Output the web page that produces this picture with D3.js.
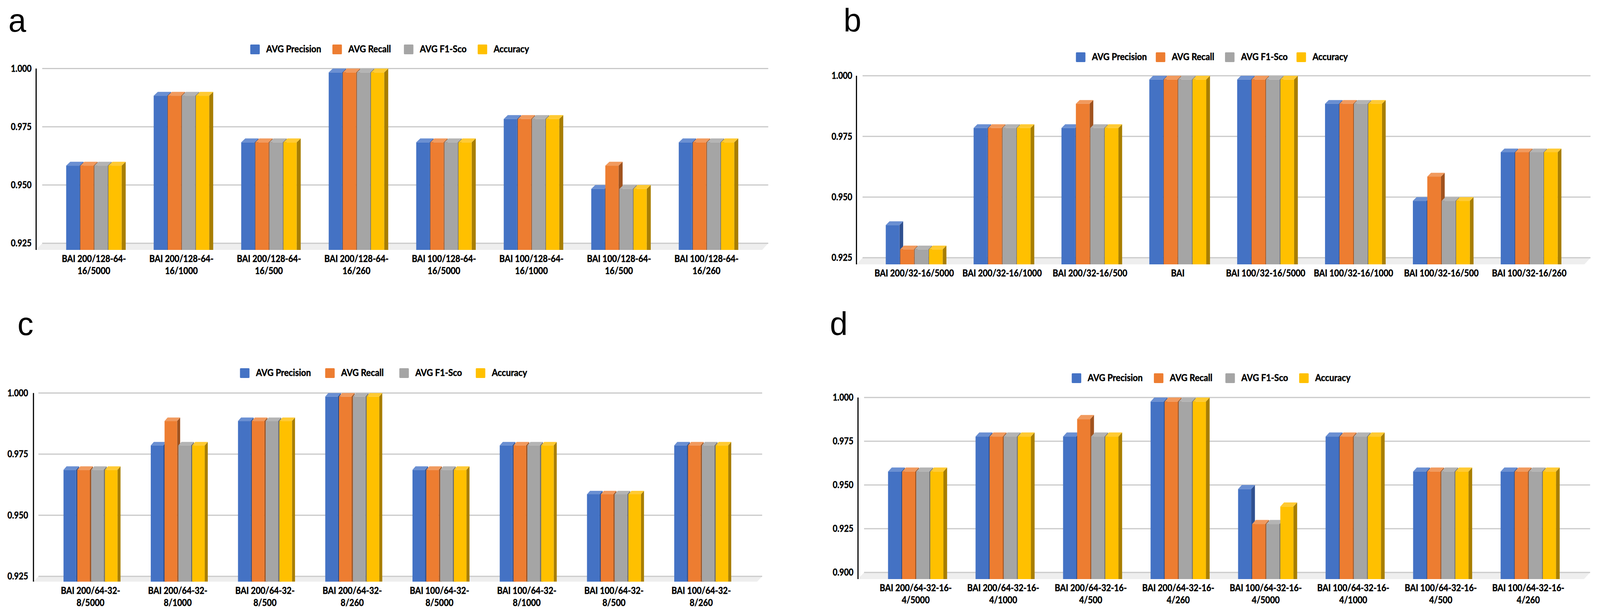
<!DOCTYPE html>
<html>
<head>
<meta charset="utf-8">
<script src="https://cdn.jsdelivr.net/npm/d3@7"></script>
<style>
  html, body { margin: 0; padding: 0; background: #fff; width: 100%; height: 100%; overflow: hidden; }
  svg { display: block; width: 100vw; height: 100vh; }
  text { font-family: Lato, "Noto Sans", sans-serif; font-weight: 700; fill: #000; stroke: #000; stroke-width: 0.6px; }
  .letter { font-family: "Liberation Sans", sans-serif; font-weight: 400; font-size: 84px; stroke: none; }
</style>
</head>
<body>
<!-- the window tops out narrower than the picture, so the drawing is fitted to whatever it gets -->
<svg id="canvas" viewBox="0 0 4207 1575" preserveAspectRatio="none"></svg>
<script>
// series names shared by the four panels
let seriesNames = ['AVG Precision', 'AVG Recall', 'AVG F1-Sco', 'Accuracy'];

// panel a
let categoriesA = ['BAI 200/128-64-\n16/5000', 'BAI 200/128-64-\n16/1000', 'BAI 200/128-64-\n16/500', 'BAI 200/128-64-\n16/260',
                   'BAI 100/128-64-\n16/5000', 'BAI 100/128-64-\n16/1000', 'BAI 100/128-64-\n16/500', 'BAI 100/128-64-\n16/260'];
let precisionA = [0.96, 0.99, 0.97, 1.00, 0.97, 0.98, 0.95, 0.97];
let recallA    = [0.96, 0.99, 0.97, 1.00, 0.97, 0.98, 0.96, 0.97];
let f1A        = [0.96, 0.99, 0.97, 1.00, 0.97, 0.98, 0.95, 0.97];
let accuracyA  = [0.96, 0.99, 0.97, 1.00, 0.97, 0.98, 0.95, 0.97];
let ticksA = [0.925, 0.950, 0.975, 1.000];

// panel b
let categoriesB = ['BAI 200/32-16/5000', 'BAI 200/32-16/1000', 'BAI 200/32-16/500', 'BAI',
                   'BAI 100/32-16/5000', 'BAI 100/32-16/1000', 'BAI 100/32-16/500', 'BAI 100/32-16/260'];
let precisionB = [0.94, 0.98, 0.98, 1.00, 1.00, 0.99, 0.95, 0.97];
let recallB    = [0.93, 0.98, 0.99, 1.00, 1.00, 0.99, 0.96, 0.97];
let f1B        = [0.93, 0.98, 0.98, 1.00, 1.00, 0.99, 0.95, 0.97];
let accuracyB  = [0.93, 0.98, 0.98, 1.00, 1.00, 0.99, 0.95, 0.97];
let ticksB = [0.925, 0.950, 0.975, 1.000];

// panel c
let categoriesC = ['BAI 200/64-32-\n8/5000', 'BAI 200/64-32-\n8/1000', 'BAI 200/64-32-\n8/500', 'BAI 200/64-32-\n8/260',
                   'BAI 100/64-32-\n8/5000', 'BAI 100/64-32-\n8/1000', 'BAI 100/64-32-\n8/500', 'BAI 100/64-32-\n8/260'];
let precisionC = [0.97, 0.98, 0.99, 1.00, 0.97, 0.98, 0.96, 0.98];
let recallC    = [0.97, 0.99, 0.99, 1.00, 0.97, 0.98, 0.96, 0.98];
let f1C        = [0.97, 0.98, 0.99, 1.00, 0.97, 0.98, 0.96, 0.98];
let accuracyC  = [0.97, 0.98, 0.99, 1.00, 0.97, 0.98, 0.96, 0.98];
let ticksC = [0.925, 0.950, 0.975, 1.000];

// panel d
let categoriesD = ['BAI 200/64-32-16-\n4/5000', 'BAI 200/64-32-16-\n4/1000', 'BAI 200/64-32-16-\n4/500', 'BAI 200/64-32-16-\n4/260',
                   'BAI 100/64-32-16-\n4/5000', 'BAI 100/64-32-16-\n4/1000', 'BAI 100/64-32-16-\n4/500', 'BAI 100/64-32-16-\n4/260'];
let precisionD = [0.96, 0.98, 0.98, 1.00, 0.95, 0.98, 0.96, 0.96];
let recallD    = [0.96, 0.98, 0.99, 1.00, 0.93, 0.98, 0.96, 0.96];
let f1D        = [0.96, 0.98, 0.98, 1.00, 0.93, 0.98, 0.96, 0.96];
let accuracyD  = [0.96, 0.98, 0.98, 1.00, 0.94, 0.98, 0.96, 0.96];
let ticksD = [0.900, 0.925, 0.950, 0.975, 1.000];

// front, top and side shades of each series
let frontColors = ['#4472c4', '#ed7d31', '#a5a5a5', '#ffc000'];
let topColors   = ['#6a8fd2', '#f19a5e', '#b4b4b4', '#ffca33'];
let sideColors  = ['#2f5090', '#a0521e', '#707070', '#a87e00'];

let canvas = d3.select('#canvas');

// Lato runs wider than the font in the picture, so squeeze it a bit
let squeeze = (sel, factor) => {
    sel.each(function () {
        let len = this.getComputedTextLength();
        d3.select(this)
            .attr('textLength', len * factor)
            .attr('lengthAdjust', 'spacingAndGlyphs');
    });
};

let drawPanel = (cfg) => {
    let g = canvas.append('g');

    let y = d3.scaleLinear()
        .domain([cfg.ticks[0], 1])
        .range([cfg.gridBottom, cfg.gridTop]);

    // band per category, inner band per series
    let x0 = d3.scaleBand()
        .domain(cfg.categories)
        .range([cfg.firstBar, cfg.firstBar + cfg.step * 8]);
    let x1 = d3.scaleBand()
        .domain(d3.range(4))
        .range([0, cfg.pitch * 4]);

    // floor
    g.append('polygon')
        .attr('fill', '#eeeeee')
        .attr('points', [
            [cfg.axisX, cfg.floor], [cfg.axisX + cfg.floorDx, cfg.gridBottom],
            [cfg.right, cfg.gridBottom], [cfg.right - cfg.floorDx, cfg.floor]
        ].join(' '));

    // gridlines
    g.selectAll('line.grid')
        .data(cfg.ticks)
        .enter()
        .append('line')
        .attr('class', 'grid')
        .attr('x1', cfg.axisX + cfg.floorDx)
        .attr('x2', cfg.right)
        .attr('y1', (d) => y(d))
        .attr('y2', (d) => y(d))
        .attr('stroke', '#c9c9c9')
        .attr('stroke-width', 3);

    // y axis labels
    let axis = d3.axisLeft(y)
        .tickValues(cfg.ticks)
        .tickFormat(d3.format('.3f'))
        .tickSize(0)
        .tickPadding(0);
    let axisG = g.append('g')
        .attr('transform', `translate(${cfg.labelX},0)`)
        .call(axis);
    axisG.select('.domain').remove();
    axisG.selectAll('text')
        .style('font-family', 'Lato')
        .style('font-size', '24px')
        .style('font-weight', 700)
        .call(squeeze, 0.89);

    g.append('line')
        .attr('x1', cfg.axisX).attr('x2', cfg.axisX)
        .attr('y1', cfg.gridTop).attr('y2', cfg.floor)
        .attr('stroke', '#000')
        .attr('stroke-width', 3);

    // bars, left to right so each front covers the side of the one before
    cfg.categories.forEach((cat, i) => {
        cfg.series.forEach((vals, s) => {
            let left = x0(cat) + x1(s);
            let right = left + cfg.front;
            let backTop = y(vals[i]);
            let frontTop = backTop + cfg.dy;

            g.append('polygon')
                .attr('fill', sideColors[s])
                .attr('points', [
                    [right, frontTop], [right + cfg.dx, backTop],
                    [right + cfg.dx, cfg.floor], [right, cfg.floor]
                ].join(' '));
            g.append('polygon')
                .attr('fill', topColors[s])
                .attr('points', [
                    [left, frontTop], [left + cfg.dx, backTop],
                    [right + cfg.dx, backTop], [right, frontTop]
                ].join(' '));
            g.append('rect')
                .attr('x', left)
                .attr('y', frontTop)
                .attr('width', cfg.front)
                .attr('height', cfg.floor - frontTop)
                .attr('fill', frontColors[s]);
        });

        // category label, one text per line where the original wraps
        cat.split('\n').forEach((line, n) => {
            g.append('text')
                .attr('text-anchor', 'middle')
                .attr('font-size', 24)
                .attr('x', x0(cat) + (cfg.pitch * 4 - (cfg.pitch - cfg.front)) / 2)
                .attr('y', cfg.floor + 31 + n * 31)
                .text(line)
                .call(squeeze, 0.91);
        });
    });

    // legend
    seriesNames.forEach((name, s) => {
        let lx = cfg.legendX[s];
        g.append('rect')
            .attr('x', lx)
            .attr('y', cfg.legendY)
            .attr('width', 25)
            .attr('height', 25)
            .attr('rx', 2)
            .attr('fill', frontColors[s]);
        g.append('text')
            .attr('x', lx + 42)
            .attr('y', cfg.legendY + 20)
            .attr('font-size', 24)
            .text(name)
            .call(squeeze, 0.95);
    });

    g.append('text')
        .attr('class', 'letter')
        .attr('x', cfg.letterX)
        .attr('y', cfg.letterY)
        .text(cfg.letter);
};

drawPanel({
    letter: 'a', letterX: 22, letterY: 81,
    categories: categoriesA, series: [precisionA, recallA, f1A, accuracyA], ticks: ticksA,
    axisX: 95, labelX: 83, right: 2020, floorDx: 16,
    gridTop: 175.5, gridBottom: 623, floor: 640,
    firstBar: 174, step: 230.1, pitch: 37, front: 34.8, dx: 10.7, dy: 10,
    legendX: [658, 874, 1062, 1256], legendY: 114
});
drawPanel({
    letter: 'b', letterX: 2218, letterY: 81,
    categories: categoriesB, series: [precisionB, recallB, f1B, accuracyB], ticks: ticksB,
    axisX: 2252, labelX: 2241, right: 4182, floorDx: 16,
    gridTop: 194, gridBottom: 660, floor: 677,
    firstBar: 2329, step: 231, pitch: 37.9, front: 36, dx: 9.8, dy: 9.6,
    legendX: [2829, 3039, 3221, 3409], legendY: 134
});
drawPanel({
    letter: 'c', letterX: 46, letterY: 858,
    categories: categoriesC, series: [precisionC, recallC, f1C, accuracyC], ticks: ticksC,
    axisX: 88, labelX: 74, right: 2004, floorDx: 13,
    gridTop: 1006.6, gridBottom: 1476, floor: 1489.6,
    firstBar: 167, step: 229.4, pitch: 36.3, front: 33, dx: 8, dy: 9,
    legendX: [631, 855, 1050, 1251], legendY: 943
});
drawPanel({
    letter: 'd', letterX: 2182, letterY: 858,
    categories: categoriesD, series: [precisionD, recallD, f1D, accuracyD], ticks: ticksD,
    axisX: 2256, labelX: 2244, right: 4181, floorDx: 16,
    gridTop: 1018, gridBottom: 1466, floor: 1483,
    firstBar: 2335, step: 230.1, pitch: 37, front: 34.5, dx: 9.8, dy: 10.5,
    legendX: [2818, 3034, 3222, 3416], legendY: 956
});
</script>
</body>
</html>
